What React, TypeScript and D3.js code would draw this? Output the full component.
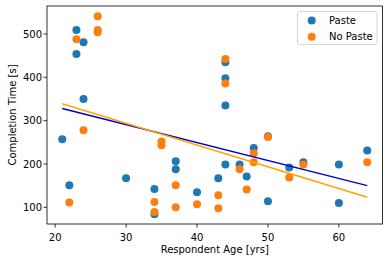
import React from "react";
import * as d3 from "d3";

const pasteAges = [21, 22, 23, 23, 24, 24, 30, 34, 34, 37, 37, 40, 43, 44, 44, 44, 44, 46, 47, 48, 50, 50, 53, 55, 60, 60, 64];
const pasteTimes = [257, 151, 509, 454, 481, 350, 167, 142, 84, 206, 188, 135, 167, 199, 435, 398, 335, 199, 171, 237, 114, 264, 192, 204, 199, 110, 231];

const noPasteAges = [22, 23, 24, 26, 26, 26, 34, 34, 35, 35, 37, 37, 40, 43, 43, 44, 44, 46, 47, 48, 48, 50, 53, 55, 64];
const noPasteTimes = [111, 488, 278, 541, 509, 504, 112, 89, 252, 243, 151, 100, 107, 128, 98, 442, 386, 188, 141, 225, 204, 262, 169, 199, 204];

const trendAges = [21, 64];
const pasteTrend = [328, 150];
const noPasteTrend = [339, 123];

const xTicks = [20, 30, 40, 50, 60];
const yTicks = [100, 200, 300, 400, 500];

const seriesNames = ["Paste", "No Paste"];

const W = 389;
const H = 262;
const L = 47, R = 382.5, T = 6, B = 224;
const FONT = "DejaVu Sans, sans-serif";
const C_PASTE = "#1f77b4";
const C_NOPASTE = "#ff7f0e";

export default function App() {
  const x = d3.scaleLinear().domain([18.85, 66.15]).range([L, R]);
  const y = d3.scaleLinear().domain([61.45, 564.6]).range([B, T]);
  const line = d3
    .line<[number, number]>()
    .x((d) => x(d[0]))
    .y((d) => y(d[1]));
  const pasteLine = line(trendAges.map((a, i) => [a, pasteTrend[i]] as [number, number])) || "";
  const noPasteLine = line(trendAges.map((a, i) => [a, noPasteTrend[i]] as [number, number])) || "";

  return (
    <svg
      width={W}
      height={H}
      style={{ position: "absolute", left: 0, top: 0, background: "#fff" }}
      fontFamily={FONT}
    >
      <rect x={0} y={0} width={W} height={H} fill="#fff" />
      {pasteAges.map((a, i) => (
        <circle key={"p" + i} cx={x(a)} cy={y(pasteTimes[i])} r={4} fill={C_PASTE} />
      ))}
      {noPasteAges.map((a, i) => (
        <circle key={"n" + i} cx={x(a)} cy={y(noPasteTimes[i])} r={4} fill={C_NOPASTE} />
      ))}
      <path d={pasteLine} stroke="mediumblue" strokeWidth={1.5} fill="none" />
      <path d={noPasteLine} stroke="orange" strokeWidth={1.5} fill="none" />
      <rect x={L} y={T} width={R - L} height={B - T} fill="none" stroke="#000" strokeWidth={0.8} />
      {xTicks.map((t) => (
        <g key={"x" + t}>
          <line x1={x(t)} x2={x(t)} y1={B} y2={B + 3.5} stroke="#000" strokeWidth={0.8} />
          <text x={x(t)} y={B + 16.5} fontSize={10} textAnchor="middle" fill="#000">
            {t}
          </text>
        </g>
      ))}
      {yTicks.map((t) => (
        <g key={"y" + t}>
          <line x1={L - 3.5} x2={L} y1={y(t)} y2={y(t)} stroke="#000" strokeWidth={0.8} />
          <text x={L - 5} y={y(t) + 3.6} fontSize={10} textAnchor="end" fill="#000">
            {t}
          </text>
        </g>
      ))}
      <text x={(L + R) / 2} y={253} fontSize={10} textAnchor="middle" fill="#000">
        Respondent Age [yrs]
      </text>
      <text
        transform={`translate(15.5,${(T + B) / 2}) rotate(-90)`}
        fontSize={10}
        textAnchor="middle"
        fill="#000"
      >
        Completion Time [s]
      </text>
      <g>
        <rect x={297.5} y={11.5} width={79.5} height={33} rx={2} fill="#fff" fillOpacity={0.8} stroke="#ccc" strokeWidth={0.8} />
        {seriesNames.map((n, i) => (
          <g key={n}>
            <circle cx={311.7} cy={20.5 + i * 16.3} r={4} fill={i === 0 ? C_PASTE : C_NOPASTE} />
            <text x={329} y={20.5 + i * 16.3 + 3.6} fontSize={10} fill="#000">
              {n}
            </text>
          </g>
        ))}
      </g>
    </svg>
  );
}
